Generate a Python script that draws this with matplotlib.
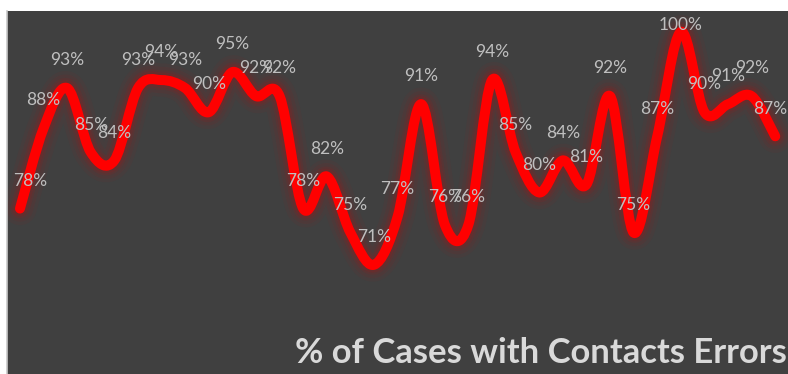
import matplotlib
matplotlib.use("Agg")
import matplotlib.pyplot as plt
from matplotlib.path import Path
from matplotlib.patches import PathPatch

# valores (% de casos com erros de contato)
pontos = list(range(33))
valores = [78, 88, 93, 85, 84, 93, 94, 93, 90, 95, 92, 92, 78, 82, 75, 71, 77,
           91, 76, 76, 94, 85, 80, 84, 81, 92, 75, 87, 100, 90, 91, 92, 87]
rotulos = [f"{v}%" for v in valores]
titulo = "% of Cases with Contacts Errors"

fundo = "#404040"
vermelho = "#FF0000"

fig = plt.figure(figsize=(7.88, 3.74), dpi=100)
fig.patch.set_facecolor("white")
ax = fig.add_axes([7 / 788, 0, 781 / 788, 363 / 374])
ax.set_facecolor(fundo)
ax.set_xlim(-0.55, 32.54)
ax.set_ylim(57.4, 102.6)
ax.set_xticks([])
ax.set_yticks([])
for lado in ["top", "right", "bottom"]:
    ax.spines[lado].set_visible(False)
ax.spines["left"].set_color("#C8C8C8")
ax.spines["left"].set_linewidth(1.2)


# linha suavizada no estilo do Excel (bezier a partir dos pontos)
def caminho_suave(xs, ys):
    n = len(xs)
    verts = [(xs[0], ys[0])]
    codes = [Path.MOVETO]
    for i in range(n - 1):
        x0, y0 = xs[max(i - 1, 0)], ys[max(i - 1, 0)]
        x1, y1 = xs[i], ys[i]
        x2, y2 = xs[i + 1], ys[i + 1]
        x3, y3 = xs[min(i + 2, n - 1)], ys[min(i + 2, n - 1)]
        c1 = (x1 + (x2 - x0) / 6, y1 + (y2 - y0) / 6)
        c2 = (x2 - (x3 - x1) / 6, y2 - (y3 - y1) / 6)
        verts += [c1, c2, (x2, y2)]
        codes += [Path.CURVE4] * 3
    return Path(verts, codes)


caminho = caminho_suave(pontos, valores)

# brilho em volta da linha
for lw, alpha in [(24, 0.04), (19, 0.05), (14, 0.08), (11, 0.1)]:
    ax.add_patch(PathPatch(caminho, facecolor="none", edgecolor="#E00000",
                           lw=lw, alpha=alpha, capstyle="round", joinstyle="round"))
ax.add_patch(PathPatch(caminho, facecolor="none", edgecolor=vermelho, lw=7.2,
                       capstyle="round", joinstyle="round"))

# rótulos de dados
for i, (x, v, txt) in enumerate(zip(pontos, valores, rotulos)):
    dx = 0
    dy = 20
    if i == 0:
        dx = 7
    if i == len(pontos) - 1:
        dx = -4
    if v >= 99:
        dy = 5
    ax.annotate(txt, (x, v), xytext=(dx, dy), textcoords="offset points",
                ha="center", va="center", color="#BFBFBF", fontsize=12.5,
                family="Lato")

fig.text(787 / 788, 1 - 363 / 374, titulo, ha="right", va="baseline",
         color="#D9D9D9", fontsize=24.9, fontweight="bold", family="Lato")

plt.savefig("out.png", dpi=100, facecolor=fig.get_facecolor())
